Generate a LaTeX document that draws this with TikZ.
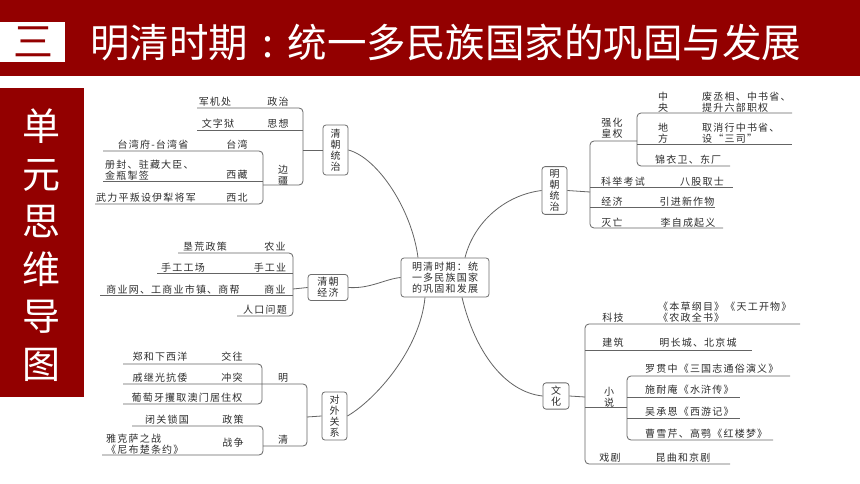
\documentclass[tikz,border=0pt]{standalone}
\usepackage{fontspec}
\setmainfont{Noto Sans CJK SC}
\newfontfamily\mapf[LetterSpace=12]{Noto Sans CJK SC}
\newfontfamily\titf{Noto Sans CJK SC}
\definecolor{dred}{RGB}{147,0,0}
\definecolor{lc}{RGB}{100,100,100}
\definecolor{tc}{RGB}{45,45,45}
\definecolor{bc}{RGB}{110,110,110}
\tikzset{
  ln/.style={draw=lc, line width=0.8pt, rounded corners=4pt},
  cv/.style={draw=lc, line width=0.8pt},
  tx/.style={font=\mapf\fontsize{10}{11}\selectfont, text=tc, inner sep=0pt, align=center},
  txl/.style={tx, anchor=west, align=left},
  mbox/.style={tx, draw=bc, line width=0.8pt, rounded corners=3pt, fill=white, inner sep=3pt},
}
\begin{document}
\begin{tikzpicture}[x=1pt,y=-1pt]
\useasboundingbox (0,0) rectangle (860,484);
\fill[white] (0,0) rectangle (860,484);
% header
\fill[dred] (0,0) rectangle (860,76);
\fill[white] (0,22) rectangle (65,62);
\node[font=\titf\fontsize{40}{40}\selectfont, text=dred, inner sep=0pt] (num) at (33,42) {三};
\node[font=\titf\fontsize{39.5}{39.5}\selectfont, text=white, inner sep=0pt, anchor=west] (title) at (90,42) {明清时期\hspace{0.36em}:\hspace{0.36em}统一多民族国家的巩固与发展};
% side box
\fill[dred] (0,88) rectangle (84,397);
\node[font=\titf\fontsize{38}{47.5}\selectfont, text=white, align=center, inner sep=0pt] (side) at (42,245) {单\\元\\思\\维\\导\\图};

% central node
\node[mbox, minimum width=88pt, minimum height=39pt, inner xsep=8pt] (c) at (445,277.5) {明清时期：统\\一多民族国家\\的巩固和发展};

% ---------- 清朝统治 ----------
\node[mbox, minimum width=25pt, minimum height=50pt] (qczz) at (335.5,150) {清\\朝\\统\\治};
\draw[ln] (197,108) -- (303,108) -- (303,185) -- (263,185);
\draw[ln] (197,130) -- (303,130);
\draw[ln] (303,150) -- (qczz.west);
\draw[ln] (103,151) -- (263,151) -- (263,204) -- (95,204);
\draw[ln] (103,181) -- (263,181);
\node[tx] (a1) at (215,102) {军机处};
\node[tx] (a2) at (278,102) {政治};
\node[tx] (a3) at (218,124) {文字狱};
\node[tx] (a4) at (278,124) {思想};
\node[tx] (a5) at (153,145) {台湾府-台湾省};
\node[tx] (a6) at (237,145) {台湾};
\node[txl] (a7) at (105,170) {册封、驻藏大臣、\\金瓶掣签};
\node[tx] (a8) at (237,175) {西藏};
\node[tx] (a9) at (283,175) {边\\疆};
\node[tx] (a10) at (146,198) {武力平叛设伊犁将军};
\node[tx] (a11) at (237,198) {西北};

% ---------- 清朝经济 ----------
\node[mbox, minimum width=40pt, minimum height=25pt] (qcjj) at (328,287.5) {清朝\\经济};
\draw[ln] (178,253) -- (293,253) -- (293,316) -- (237,316);
\draw[ln] (157,273) -- (293,273);
\draw[ln] (100,295) -- (293,295);
\draw[ln] (293,289) -- (qcjj.west);
\node[tx] (b1) at (205,247) {垦荒政策};
\node[tx] (b2) at (275,247) {农业};
\node[tx] (b3) at (183,268) {手工工场};
\node[tx] (b4) at (270,268) {手工业};
\node[tx] (b5) at (173,290) {商业网、工商业市镇、商帮};
\node[tx] (b6) at (275,290) {商业};
\node[tx] (b7) at (265,310) {人口问题};

% ---------- 对外关系 ----------
\node[mbox, minimum width=25pt, minimum height=46pt] (dwgx) at (334.5,416) {对\\外\\关\\系};
\draw[ln] (123,384) -- (307,384) -- (307,446) -- (263,446);
\draw[ln] (123,364) -- (262,364) -- (262,404) -- (123,404);
\draw[ln] (132,426) -- (263,426) -- (263,455) -- (102,455);
\draw[ln] (307,417) -- (dwgx.west);
\node[tx] (d1) at (160,357) {郑和下西洋};
\node[tx] (d2) at (232,357) {交往};
\node[tx] (d3) at (160,378) {戚继光抗倭};
\node[tx] (d4) at (232,378) {冲突};
\node[tx] (d5) at (283,378) {明};
\node[tx] (d6) at (187,398) {葡萄牙攫取澳门居住权};
\node[tx] (d7) at (167,420) {闭关锁国};
\node[tx] (d8) at (233,420) {政策};
\node[txl] (d9) at (106,444) {雅克萨之战\\《尼布楚条约》};
\node[tx] (d10) at (233,443) {战争};
\node[tx] (d11) at (283,440) {清};

% ---------- 明朝统治 ----------
\node[mbox, minimum width=25pt, minimum height=45pt] (mczz) at (554.5,190.5) {明\\朝\\统\\治};
\draw[ln] (637,141) -- (590,141) -- (590,228) -- (723,228);
\draw[ln] (590,187) -- (733,187);
\draw[ln] (590,207) -- (715,207);
\draw[ln] (mczz.east) -- (590,192);
\draw[ln] (792,113) -- (637,113) -- (637,166) -- (730,166);
\draw[ln] (637,144) -- (792,144);
\node[tx] (m1) at (612,128) {强化\\皇权};
\node[tx] (m2) at (663,102) {中\\央};
\node[txl] (m3) at (702,102) {废丞相、中书省、\\提升六部职权};
\node[tx] (m4) at (663,133) {地\\方};
\node[txl] (m5) at (702,133) {取消行中书省、\\设“三司”};
\node[txl] (m6) at (655,160) {锦衣卫、东厂};
\node[tx] (m7) at (623,182) {科举考试};
\node[tx] (m8) at (702,182) {八股取士};
\node[tx] (m9) at (612,202) {经济};
\node[tx] (m10) at (687,202) {引进新作物};
\node[tx] (m11) at (612,223) {灭亡};
\node[tx] (m12) at (688,223) {李自成起义};

% ---------- 文化 ----------
\node[mbox, minimum width=26pt, minimum height=26pt] (wh) at (556,396) {文\\化};
\draw[ln] (800,324) -- (585,324) -- (585,464) -- (730,464);
\draw[ln] (585,350) -- (752,350);
\draw[ln] (585,407) -- (627,407);
\draw[ln] (wh.east) -- (585,397);
\draw[ln] (790,376) -- (627,376) -- (627,440) -- (773,440);
\draw[ln] (627,397) -- (740,397);
\draw[ln] (627,418) -- (740,418);
\node[tx] (w1) at (613,318) {科技};
\node[txl] (w2) at (658,307) {《本草纲目》《天工开物》};
\node[txl] (w3) at (658,318) {《农政全书》};
\node[tx] (w4) at (613,343) {建筑};
\node[tx] (w5) at (698,343) {明长城、北京城};
\node[tx] (w6) at (609,397) {小\\说};
\node[txl] (w7) at (645,369) {罗贯中《三国志通俗演义》};
\node[txl] (w8) at (645,390) {施耐庵《水浒传》};
\node[txl] (w9) at (645,412) {吴承恩《西游记》};
\node[txl] (w10) at (645,434) {曹雪芹、高鹗《红楼梦》};
\node[tx] (w11) at (610,458) {戏剧};
\node[tx] (w12) at (683,458) {昆曲和京剧};

% ---------- curves from centre ----------
\draw[cv] (qczz.east) .. controls (378,158) and (412,210) .. (c.north west -| 418,0);
\draw[cv] (c.north -| 465,0) .. controls (474,222) and (505,195) .. (mczz.west);
\draw[cv] (qcjj.east) .. controls (370,289) and (385,279) .. (c.west);
\draw[cv] (dwgx.east) .. controls (375,400) and (420,350) .. (c.south -| 425,0);
\draw[cv] (c.south -| 462,0) .. controls (475,352) and (505,392) .. (wh.west);
\end{tikzpicture}
\end{document}
